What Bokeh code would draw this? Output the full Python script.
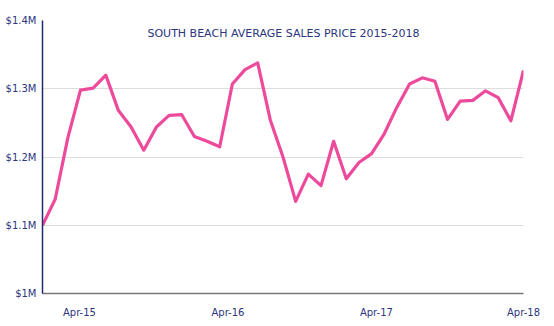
from bokeh.plotting import figure
from bokeh.models import Range1d, FixedTicker, Label
from bokeh.embed import file_html
from bokeh.resources import INLINE

# Average sales price, millions of dollars, 39 evenly spaced observations (Jan-15 .. Apr-18)
prices = [1.100, 1.138, 1.228, 1.298, 1.301, 1.320, 1.268, 1.244, 1.210, 1.244,
          1.261, 1.262, 1.230, 1.223, 1.215, 1.307, 1.328, 1.338, 1.254, 1.200,
          1.135, 1.175, 1.158, 1.223, 1.168, 1.192, 1.205, 1.234, 1.273, 1.307,
          1.316, 1.311, 1.255, 1.282, 1.283, 1.297, 1.287, 1.253, 1.327]
obs = list(range(len(prices)))

x_tick_pos = [2.92, 14.65, 26.38, 38.0]
x_tick_labels = ["Apr-15", "Apr-16", "Apr-17", "Apr-18"]
y_ticks = [1.0, 1.1, 1.2, 1.3, 1.4]
y_tick_labels = ["$1M", "$1.1M", "$1.2M", "$1.3M", "$1.4M"]
title_text = "SOUTH BEACH AVERAGE SALES PRICE 2015-2018"

NAVY = "#2b3580"
FONT = "DejaVu Sans"

p = figure(width=554, height=326, output_backend="svg", toolbar_location=None,
           x_range=Range1d(0, len(prices) - 1), y_range=Range1d(1.0, 1.4),
           min_border_left=42, min_border_right=31, min_border_top=20, min_border_bottom=33)
p.outline_line_color = None
p.background_fill_color = "white"
p.border_fill_color = "white"

p.line(obs, prices, line_color="#ee4a9c", line_width=3.2, line_join="round")

p.xaxis.ticker = FixedTicker(ticks=x_tick_pos)
p.xaxis.major_label_overrides = {t: l for t, l in zip(x_tick_pos, x_tick_labels)}
p.yaxis.ticker = FixedTicker(ticks=y_ticks)
p.yaxis.major_label_overrides = {t: l for t, l in zip(y_ticks, y_tick_labels)}

for ax in (p.xaxis[0], p.yaxis[0]):
    ax.major_tick_line_color = None
    ax.minor_tick_line_color = None
    ax.major_tick_out = 0
    ax.major_tick_in = 0
    ax.major_label_text_color = NAVY
    ax.major_label_text_font = FONT
    ax.major_label_text_font_size = "10px"
p.xaxis.axis_line_color = "#777777"
p.xaxis.axis_line_width = 1.5
p.xaxis.major_label_standoff = 13
p.yaxis.axis_line_color = "#1f2a6e"
p.yaxis.axis_line_width = 1.5
p.yaxis.major_label_standoff = 6

p.xgrid.grid_line_color = None
p.ygrid.grid_line_color = "#dddddd"
p.ygrid.grid_line_width = 1

p.add_layout(Label(x=19.04, y=1.381, text=title_text, text_align="center",
                   text_baseline="middle", text_color=NAVY, text_font=FONT,
                   text_font_size="11px"))

open("out.html", "w").write(file_html(p, INLINE))
